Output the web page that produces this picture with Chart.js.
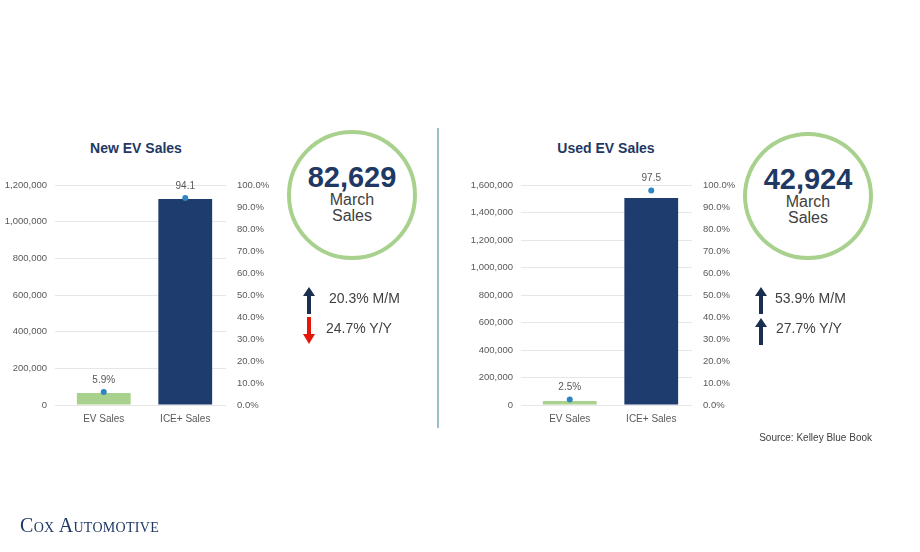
<!DOCTYPE html>
<html><head><meta charset="utf-8">
<script src="https://cdn.jsdelivr.net/npm/chart.js@4"></script>
<style>
body{margin:0;width:920px;height:552px;background:#fff;position:relative;font-family:Arial,"Liberation Sans",sans-serif;overflow:hidden}
.abs{position:absolute}
.title{font-weight:bold;font-size:14px;color:#1f3864;text-align:center;width:200px}
.circ{border:4px solid #a9d18e;border-radius:50%;box-sizing:border-box;text-align:center;color:#404040}
.big{font-weight:bold;font-size:29px;color:#1f3864;line-height:30px;margin-top:28px}
.sub{font-size:16px;line-height:16px}
.stat{font-size:14px;color:#404040}
</style></head><body>
<div class="abs title" style="left:36px;top:140px">New EV Sales</div>
<div class="abs title" style="left:506px;top:140px">Used EV Sales</div>
<div class="abs" style="left:3px;top:163px;width:273px;height:262px"><canvas id="c1"></canvas></div>
<div class="abs" style="left:469px;top:163px;width:273px;height:262px"><canvas id="c2"></canvas></div>
<div class="abs" style="left:437px;top:128px;width:1.5px;height:300px;background:#9bbdc9"></div>
<div class="abs circ" style="left:287px;top:130px;width:130px;height:130px"><div class="big">82,629</div><div class="sub">March<br>Sales</div></div>
<div class="abs circ" style="left:743px;top:132px;width:130px;height:128px"><div class="big">42,924</div><div class="sub">March<br>Sales</div></div>
<svg class="abs" style="left:0;top:0" width="920" height="552">
<g fill="#1a2e4f"><polygon points="309,287 315,296 311,296 311,314 307,314 307,296 303,296"/></g>
<g fill="#e3170a"><polygon points="309,344 315,334 311,334 311,317 307,317 307,334 303,334"/></g>
<g fill="#1a2e4f"><polygon points="761,287 767,296 763,296 763,314 759,314 759,296 755,296"/>
<polygon points="761,318 767,327 763,327 763,345 759,345 759,327 755,327"/></g>
</svg>
<div class="abs stat" style="left:329px;top:290px">20.3% M/M</div>
<div class="abs stat" style="left:326px;top:320px">24.7% Y/Y</div>
<div class="abs stat" style="left:775px;top:290px">53.9% M/M</div>
<div class="abs stat" style="left:776px;top:320px">27.7% Y/Y</div>
<div class="abs" style="right:48px;top:432px;font-size:10px;color:#404040">Source: Kelley Blue Book</div>
<div class="abs" style="left:20px;top:514px;font-family:'Liberation Serif',serif;font-size:20px;color:#1f3864;font-variant:small-caps;letter-spacing:0.3px">Cox Automotive</div>
<script>
const categories=["EV Sales","ICE+ Sales"];
const newSales=[66000,1123000];
const newShare=[5.9,94.1];
const newShareLabels=["5.9%","94.1"];
const usedSales=[29000,1505000];
const usedShare=[2.5,97.5];
const usedShareLabels=["2.5%","97.5"];
const barColors=["#a9d18e","#1f3c6e"];

const labelPlugin={id:'pl',afterDatasetsDraw(ch,a,opts){const ctx=ch.ctx;const meta=ch.getDatasetMeta(1);ctx.save();ctx.font='10px Arial';ctx.fillStyle='#595959';ctx.textAlign='center';ctx.textBaseline='bottom';meta.data.forEach((p,i)=>{ctx.fillText(opts.labels[i],p.x,p.y-7);});ctx.restore();}};
function make(id,sales,share,labels,max,step){
 new Chart(document.getElementById(id),{
  data:{labels:categories,datasets:[
   {type:'bar',data:sales,backgroundColor:barColors,yAxisID:'y',categoryPercentage:0.66,barPercentage:1,order:2},
   {type:'line',data:share,yAxisID:'y2',showLine:false,pointRadius:3,pointBackgroundColor:'#2e86c1',pointBorderWidth:0,order:1}]},
  options:{responsive:true,maintainAspectRatio:false,animation:false,
   layout:{padding:{top:22,right:5}},
   plugins:{legend:{display:false},tooltip:{enabled:false},pl:{labels}},
   scales:{
    x:{grid:{display:false},border:{display:false},ticks:{color:'#595959',font:{size:10},padding:0}},
    y:{min:0,max:max,ticks:{stepSize:step,color:'#595959',font:{size:9.5},padding:8,callback:v=>v.toLocaleString('en-US')},grid:{color:'#e6e6e6'},border:{display:false},afterFit:s=>{s.width=60}},
    y2:{position:'right',min:0,max:100,ticks:{stepSize:10,color:'#595959',font:{size:9.5},callback:v=>v.toFixed(1)+'%'},grid:{display:false},border:{display:false},afterFit:s=>{s.width=45}}
   }},
  plugins:[labelPlugin]});
}
make('c1',newSales,newShare,newShareLabels,1200000,200000);
make('c2',usedSales,usedShare,usedShareLabels,1600000,200000);
</script>
</body></html>
